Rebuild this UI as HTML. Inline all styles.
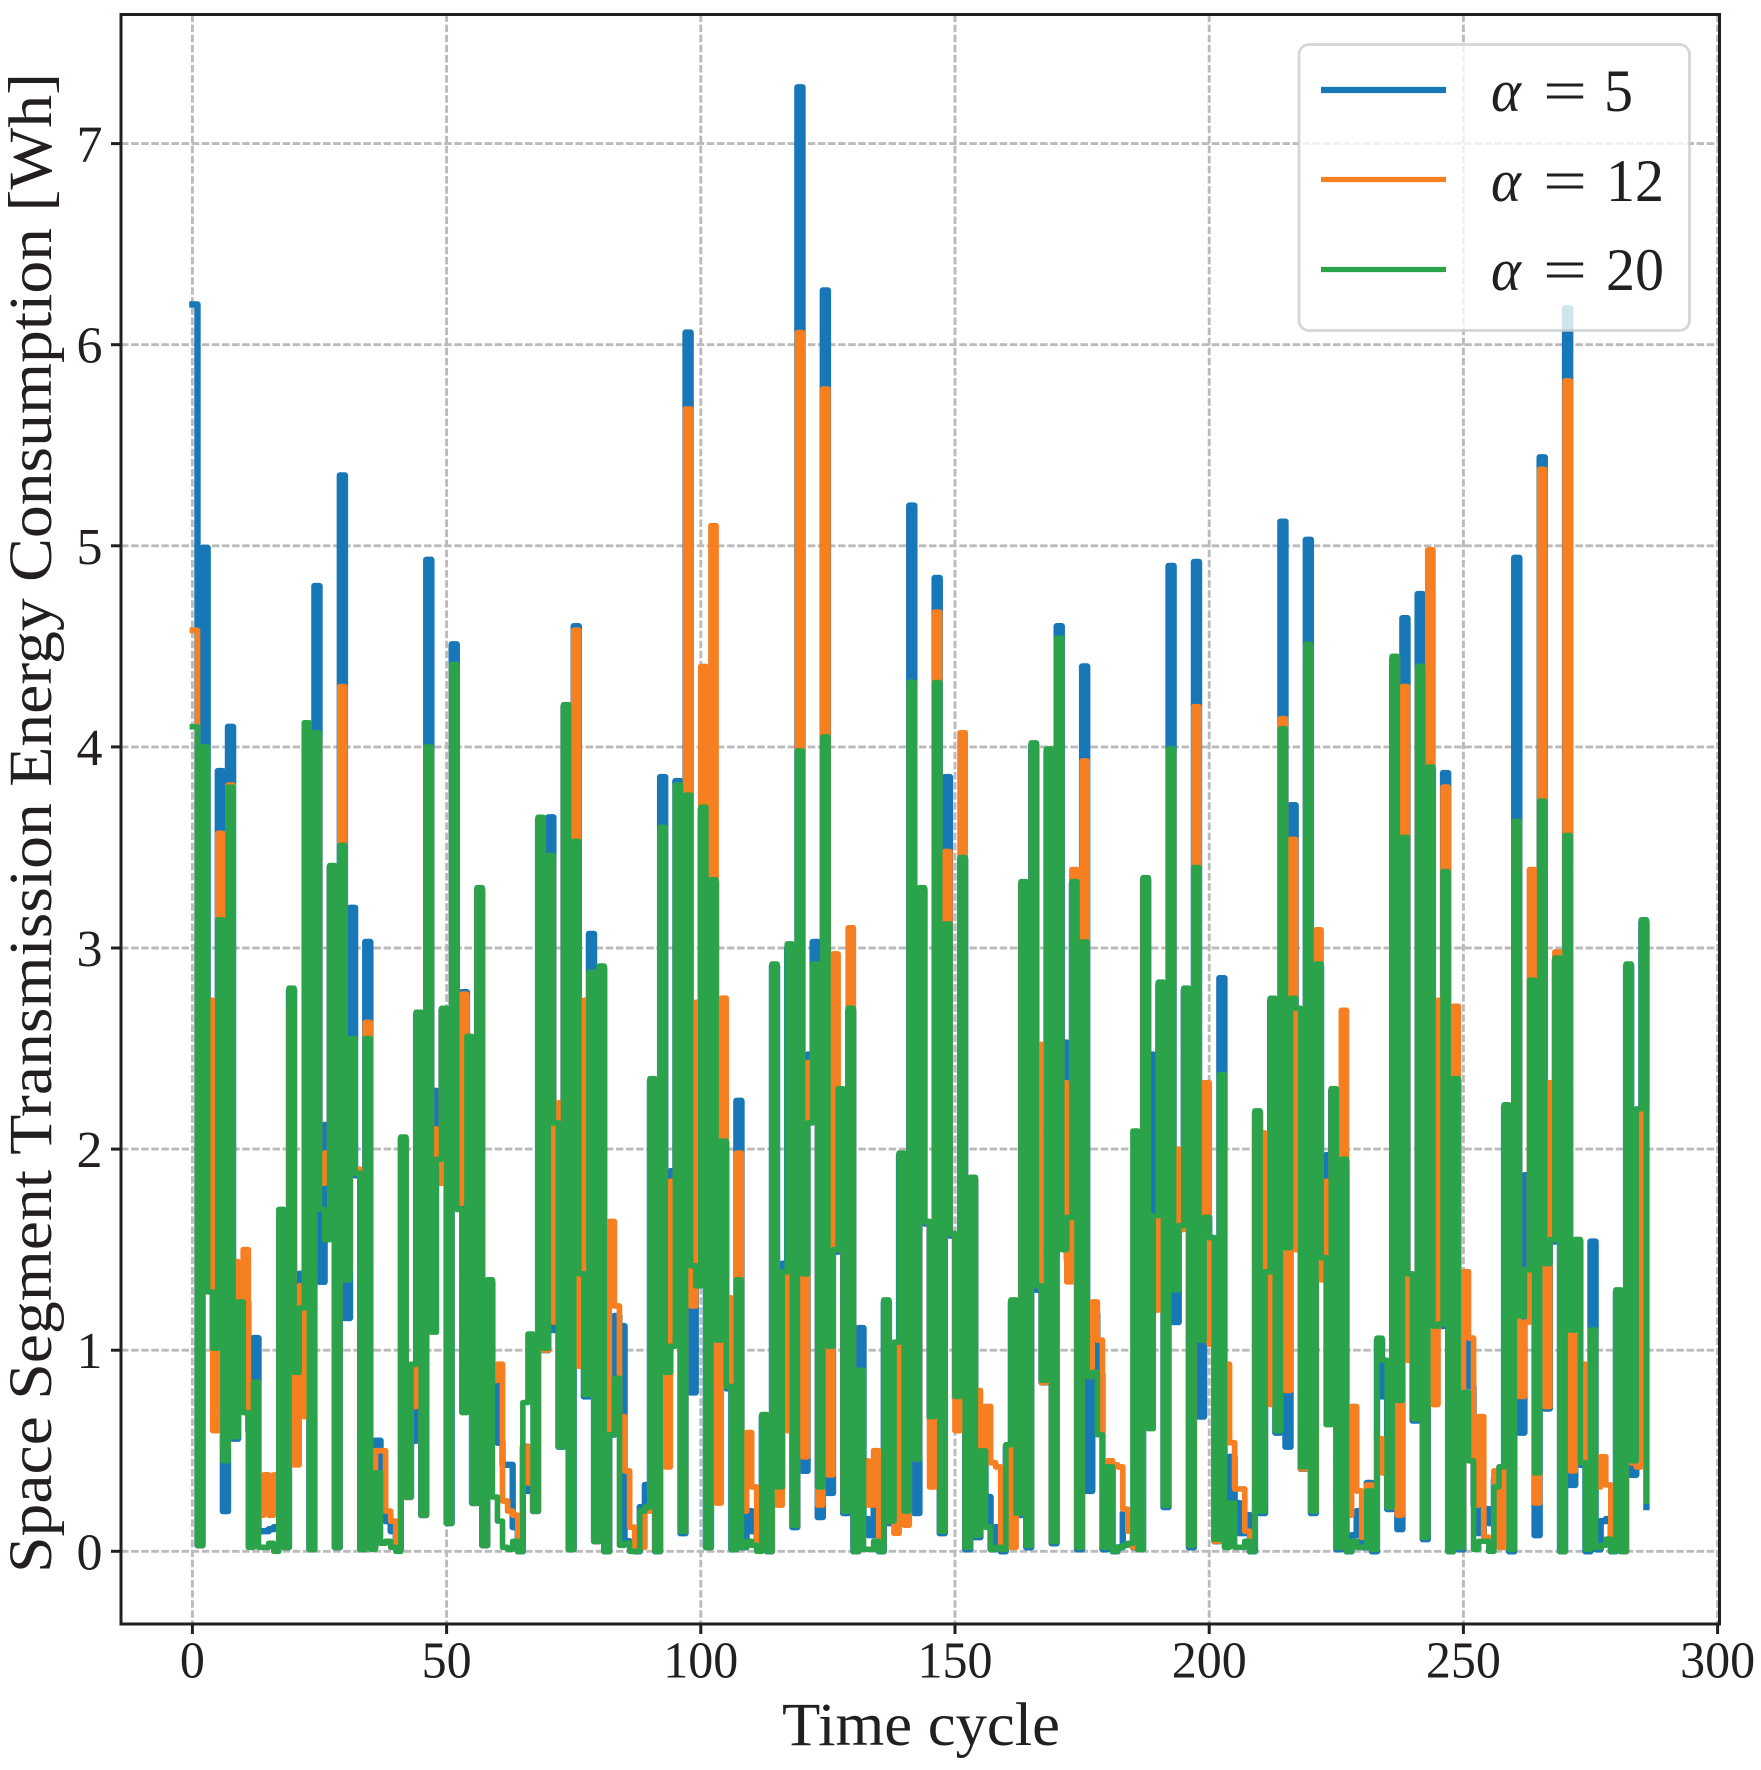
<!DOCTYPE html>
<html lang="en">
<head>
<meta charset="utf-8">
<title>Space Segment Transmission Energy Consumption</title>
<style>
html,body{margin:0;padding:0;background:#fff;}
svg{display:block;}
text{fill:#231f20;font-family:"Liberation Serif",serif;}
</style>
</head>
<body>
<svg id="chart" xmlns="http://www.w3.org/2000/svg" width="1761" height="1770" viewBox="0 0 1761 1770">
  <defs><clipPath id="plot-clip"><rect x="121" y="14.5" width="1598.5" height="1609.5"/></clipPath></defs>
  <rect x="0" y="0" width="1761" height="1770" fill="#fff"/>
  <g id="grid" stroke="#bbbbbb" stroke-width="2.9" stroke-dasharray="7.5 2.6" fill="none"></g>
  <g clip-path="url(#plot-clip)" fill="none" stroke-linejoin="round" stroke-linecap="square">
    <path id="s5" stroke="#1877b6" stroke-width="6.4"/>
    <path id="s12" stroke="#f67f21" stroke-width="5.7"/>
    <path id="s20" stroke="#2ba34a" stroke-width="5.6"/>
  </g>
  <g id="ticks" stroke="#231f20" stroke-width="3"></g>
  <g id="tick-labels"></g>
  <rect x="121" y="14.5" width="1598.5" height="1609.5" fill="none" stroke="#231f20" stroke-width="3"/>
  <text x="921" y="1745" font-size="61" text-anchor="middle" textLength="278" lengthAdjust="spacingAndGlyphs">Time cycle</text>
  <text transform="translate(51,823) rotate(-90)" font-size="61" text-anchor="middle" textLength="1500" lengthAdjust="spacingAndGlyphs">Space Segment Transmission Energy Consumption [Wh]</text>
  <g>
    <rect x="1299" y="44.5" width="390.5" height="286" rx="10" ry="10" fill="#fff" fill-opacity="0.8" stroke="#ccc" stroke-opacity="0.8" stroke-width="2.8"/>
    <line x1="1321" y1="90" x2="1446" y2="90" stroke="#1877b6" stroke-width="6.2"/>
    <line x1="1321" y1="179.5" x2="1446" y2="179.5" stroke="#f67f21" stroke-width="5.2"/>
    <line x1="1321" y1="269.5" x2="1446" y2="269.5" stroke="#2ba34a" stroke-width="5.2"/>
    <g font-size="60">
      <text x="1491" y="111" font-style="italic" textLength="30" lengthAdjust="spacingAndGlyphs">α</text>
      <text x="1543" y="111" textLength="44" lengthAdjust="spacingAndGlyphs">=</text>
      <text x="1604" y="111" textLength="29" lengthAdjust="spacingAndGlyphs">5</text>
    </g>
    <g font-size="60">
      <text x="1491" y="201" font-style="italic" textLength="30" lengthAdjust="spacingAndGlyphs">α</text>
      <text x="1543" y="201" textLength="44" lengthAdjust="spacingAndGlyphs">=</text>
      <text x="1606" y="201" textLength="58" lengthAdjust="spacingAndGlyphs">12</text>
    </g>
    <g font-size="60">
      <text x="1491" y="290" font-style="italic" textLength="30" lengthAdjust="spacingAndGlyphs">α</text>
      <text x="1543" y="290" textLength="44" lengthAdjust="spacingAndGlyphs">=</text>
      <text x="1606" y="290" textLength="58" lengthAdjust="spacingAndGlyphs">20</text>
    </g>
  </g>
</svg>
<script>
const xTicks = [0, 50, 100, 150, 200, 250, 300];
const yTicks = [0, 1, 2, 3, 4, 5, 6, 7];
const alpha5 = [
6.2,.03,4.99,1.3,1.0,3.88,.2,4.1,.56,1.25,
1.24,.6,1.06,.1,.1,.11,.12,.12,.02,2.79,
.88,1.38,1.1,.01,4.8,1.34,2.12,3.4,.02,5.35,
1.16,3.2,1.87,.01,3.03,.02,.55,.2,.15,.1,
.01,2.05,.27,.55,2.67,.18,4.93,2.29,2.1,2.69,
.14,4.51,1.72,2.78,2.0,.24,3.29,.03,1.34,.84,
.54,.43,.43,.12,.0,.52,.3,.2,3.64,1.0,
3.65,1.1,.52,4.2,.01,4.6,1.37,.77,3.07,.05,
2.9,.0,.58,1.17,1.12,.05,.03,.0,.22,.33,
2.34,.0,3.85,.88,1.89,3.83,.09,6.06,.79,2.7,
3.69,.02,3.33,1.04,2.03,.81,.01,2.24,.02,.2,
.1,.02,.67,.0,2.91,.31,1.43,3.0,.12,7.28,
.4,2.47,3.03,.17,6.27,.29,1.49,2.29,.19,2.69,
.0,1.11,.16,.08,.23,.0,1.24,.14,1.03,1.97,
.19,5.2,.19,3.29,1.63,.66,4.84,.09,3.85,1.57,
.76,3.44,.01,1.85,.07,.49,.27,.01,.12,.0,
.52,1.24,.18,3.32,.02,4.01,1.3,.84,3.98,.04,
4.6,2.53,1.45,3.32,.01,4.4,.3,1.18,.88,.01,
.41,.0,.02,.19,.14,.02,.01,3.34,2.47,1.66,
2.82,.22,4.9,1.14,1.61,2.79,.02,4.92,.67,1.66,
1.55,.05,2.85,.24,.47,.24,.09,.18,.0,2.18,
.19,1.38,2.74,.59,5.12,.52,3.71,2.69,.41,5.03,
.19,2.91,1.45,1.97,2.29,.01,1.94,.0,.08,.2,
.02,.34,.0,1.05,.77,.21,4.44,.11,4.64,1.37,
.65,4.76,.06,3.89,1.11,1.12,3.87,.0,2.34,.01,
1.04,.82,.23,.09,.21,.14,.36,.26,2.21,.0,
4.94,.59,1.87,1.16,.08,5.44,.71,1.54,2.94,.0,
6.18,.33,1.54,.43,.0,1.54,.01,.15,.16,.0,
1.29,.0,2.91,.38,2.19,3.13,.22
];
const alpha12 = [
4.58,.03,3.9,2.74,.6,3.57,.5,3.81,1.44,.8,
1.5,.71,.84,.18,.38,.18,.38,.12,.02,2.7,
.43,1.32,.67,.01,4.05,1.83,1.98,3.4,.02,4.3,
1.4,2.54,1.9,.01,2.63,.02,.5,.5,.2,.15,
.01,2.05,.27,.72,2.68,.18,3.99,2.1,1.83,2.69,
.14,4.4,1.73,2.77,2.0,.24,3.29,.03,1.34,.85,
.93,.25,.2,.18,.0,.52,.34,.2,3.64,1.0,
3.45,1.14,2.23,4.2,.01,4.58,.92,2.74,2.87,.05,
2.9,.0,1.64,1.22,.67,.4,.12,.02,.02,.2,
2.34,.0,3.59,.42,1.84,3.8,.1,5.68,1.22,2.73,
4.4,.02,5.1,.24,2.75,1.26,.84,1.98,.2,.59,
.32,.02,.02,.0,2.9,.23,1.37,.6,.13,6.06,
.47,2.43,2.9,.23,5.78,.38,2.97,1.5,.2,3.1,
.0,.43,.45,.23,.5,.02,1.24,.15,.09,1.03,
.13,4.32,.46,3.29,1.64,.32,4.67,.1,3.48,1.58,
.6,4.07,.02,1.85,.8,.44,.72,.44,.42,.01,
.52,.02,.19,3.32,.03,4.0,2.52,.84,3.98,.05,
4.53,2.33,1.34,3.39,.02,3.93,.87,1.24,1.05,.03,
.45,.43,.42,.21,.1,.02,.01,3.34,1.2,1.2,
2.8,.23,3.98,2.0,1.6,2.79,.03,4.2,1.05,2.33,
1.03,.05,2.0,.93,.54,.31,.31,.1,.03,2.18,
2.08,1.41,.73,.6,4.14,.8,3.54,1.5,.41,4.5,
.2,3.09,1.35,1.84,2.3,.02,2.69,.18,.72,.3,
.07,.33,.01,.56,.39,.22,4.45,.18,4.3,.95,
.66,4.39,.07,4.98,.73,2.74,3.8,.0,2.71,.02,
1.39,1.06,.23,.67,.07,.06,.4,.02,2.2,.01,
3.62,.77,1.14,3.39,.24,5.38,.72,2.33,2.98,.0,
5.82,.4,1.55,.93,.45,1.09,.32,.47,.33,.03,
1.29,.0,2.91,.44,.42,2.2,.25
];
const alpha20 = [
4.1,.03,4.0,1.29,1.01,3.14,.45,3.8,.57,1.24,
.69,.02,.84,.02,.02,.04,.0,1.7,.02,2.8,
.89,1.21,4.12,.01,4.07,1.7,1.55,3.41,.02,3.51,
1.35,2.55,1.88,.01,2.55,.01,.39,.04,.05,.02,
.0,2.06,.27,.93,2.68,.18,4.0,1.09,1.95,2.7,
.14,4.41,1.7,.69,2.56,.24,3.3,.03,1.35,.27,
.15,.02,.01,.05,.0,.74,1.08,.2,3.65,1.01,
3.46,2.13,.52,4.21,.01,3.53,1.38,.78,2.88,.05,
2.91,.0,.58,.86,.03,.04,.0,.0,.2,.22,
2.35,.0,3.6,.89,1.02,3.81,.1,3.76,1.42,1.32,
3.7,.02,3.34,1.05,2.04,.82,.01,1.35,.02,.05,
.03,.0,.68,.0,2.92,.32,1.39,3.02,.13,3.98,
1.38,2.13,2.92,.32,4.05,1.02,1.5,2.3,.2,2.7,
.0,.9,.01,.01,.05,.0,1.25,.15,1.04,1.98,
.2,4.32,.46,3.3,1.64,.67,4.32,.1,3.12,1.58,
.77,3.45,.02,1.86,.08,.5,.12,.01,.02,.01,
.53,1.25,.19,3.33,.03,4.02,1.32,.85,3.99,.05,
4.54,1.5,1.66,3.33,.02,3.03,.87,.89,.58,.02,
.42,.0,.02,.03,.04,2.09,.01,3.35,.61,1.67,
2.83,.23,3.99,1.3,1.62,2.8,.03,3.4,1.05,1.66,
1.56,.06,2.37,.02,.24,.02,.02,.05,.0,2.19,
.2,1.39,2.75,.6,4.09,1.51,2.75,2.7,.42,4.51,
.2,2.92,1.46,.63,2.3,.02,1.95,.0,.05,.02,
.02,.3,.01,1.06,.95,.22,4.45,.75,3.55,1.38,
.66,4.4,.07,3.9,1.12,1.13,3.38,.0,2.35,.02,
.79,.45,.01,.05,.05,.0,.32,.42,2.22,.01,
3.63,1.17,1.4,2.84,.39,3.73,1.43,1.55,2.95,.0,
3.56,1.1,1.55,.44,.01,1.1,.02,.03,.06,.0,
1.3,.0,2.92,.45,2.2,3.14,.25
];

const SVG_NS = 'http://www.w3.org/2000/svg';
function xScale(t) { return 192.4 + 5.084 * t; }
function yScale(v) { return 1551.3 - 201.1 * v; }

function stepPath(values) {
  let d = 'M' + xScale(0).toFixed(2) + ' ' + yScale(values[0]).toFixed(2);
  for (let i = 1; i < values.length; i++) {
    const px = xScale(i).toFixed(2);
    d += 'H' + px + 'V' + yScale(values[i]).toFixed(2);
  }
  return d;
}
document.getElementById('s5').setAttribute('d', stepPath(alpha5));
document.getElementById('s12').setAttribute('d', stepPath(alpha12));
document.getElementById('s20').setAttribute('d', stepPath(alpha20));

const gridGroup = document.getElementById('grid');
const tickGroup = document.getElementById('ticks');
const labelGroup = document.getElementById('tick-labels');

function makeEl(tag, attrs) {
  const el = document.createElementNS(SVG_NS, tag);
  for (const k in attrs) el.setAttribute(k, attrs[k]);
  return el;
}

xTicks.forEach(function (t) {
  const px = xScale(t);
  const g = makeEl('line', {x1: px, x2: px, y1: 14.5, y2: 1624});
  
  
  gridGroup.appendChild(g);
  const m = makeEl('line', {x1: px, x2: px, y1: 1624, y2: 1634});
  
  
  tickGroup.appendChild(m);
  const s = String(t);
  const lab = makeEl('text', {x: px - (s.length * 25) / 2, y: 1677.5, 'font-size': 52, textLength: s.length * 25, lengthAdjust: 'spacingAndGlyphs'});
  
  
  lab.textContent = s;
  labelGroup.appendChild(lab);
});

yTicks.forEach(function (v) {
  const py = yScale(v);
  const g = makeEl('line', {x1: 121, x2: 1719.5, y1: py, y2: py});
  
  
  gridGroup.appendChild(g);
  const m = makeEl('line', {x1: 111, x2: 121, y1: py, y2: py});
  
  
  tickGroup.appendChild(m);
  const lab = makeEl('text', {x: 102.5, y: py + 18, 'font-size': 52, 'text-anchor': 'end'});
  
  
  lab.textContent = String(v);
  labelGroup.appendChild(lab);
});
</script>
</body>
</html>
